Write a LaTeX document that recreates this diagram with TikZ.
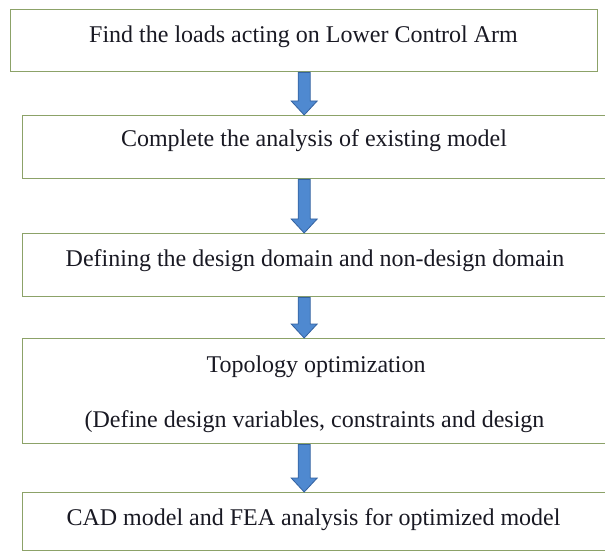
\documentclass[tikz,border=0pt]{standalone}
\usepackage{fontspec}
\setmainfont{Liberation Serif}
\usetikzlibrary{calc}
\definecolor{boxline}{RGB}{140,162,104}
\definecolor{arrfill}{RGB}{79,137,208}
\definecolor{arrline}{RGB}{52,98,160}
\definecolor{txt}{RGB}{25,25,35}
\begin{document}
\begin{tikzpicture}[x=1pt,y=-1pt,
  box/.style={draw=boxline, line width=1.4pt, fill=white, inner sep=0pt, anchor=north west},
  lbl/.style={anchor=base, font=\fontsize{24}{28}\selectfont, text=txt, inner sep=0pt},
  bigarrow/.style={draw=arrline, line width=0.8pt, fill=arrfill,
    to path={let \p1=(\tikztostart), \p2=(\tikztotarget) in
      (\x1-6pt,\y1) -- (\x1-6pt,\y2+14pt) -- (\x1-13pt,\y2+14pt) -- (\x1,\y2)
      -- (\x1+13pt,\y2+14pt) -- (\x1+6pt,\y2+14pt) -- (\x1+6pt,\y1) -- cycle}}]
\useasboundingbox (0,0) rectangle (605,553);
\fill[white] (0,0) rectangle (605,553);
\node[box, minimum width=587pt, minimum height=62pt] (b1) at (10,9) {};
\node[box, minimum width=586pt, minimum height=63pt] (b2) at (22,115) {};
\node[box, minimum width=586pt, minimum height=63pt] (b3) at (22,233) {};
\node[box, minimum width=586pt, minimum height=105pt] (b4) at (22,338) {};
\node[box, minimum width=586pt, minimum height=58pt] (b5) at (22,492) {};
\node[lbl] (t1) at (303.5,43) {Find the loads acting on Lower Control Arm};
\node[lbl] (t2) at (314,147) {Complete the analysis of existing model};
\node[lbl] (t3) at (315,267) {Defining the design domain and non-design domain};
\node[lbl] (t4a) at (316,372) {Topology optimization};
\node[lbl] (t4b) at (314.5,427) {(Define design variables, constraints and design};
\node[lbl] (t5) at (313.5,525) {CAD model and FEA analysis for optimized model};
\draw[bigarrow] (b1.south) to (b2.north);
\draw[bigarrow] (b2.south -| b1.south) to (b3.north);
\draw[bigarrow] (b3.south -| b1.south) to (b4.north);
\draw[bigarrow] (b4.south -| b1.south) to (b5.north);
\end{tikzpicture}
\end{document}
